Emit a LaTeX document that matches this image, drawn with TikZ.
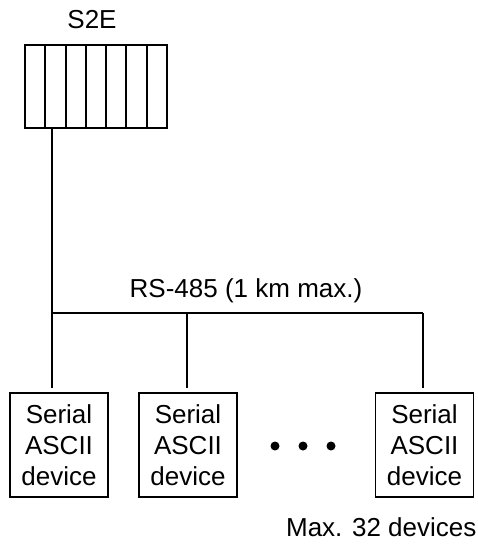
\documentclass[tikz,border=0pt]{standalone}
\usepackage{fontspec}
\setmainfont{Liberation Sans}
\usetikzlibrary{calc}
\begin{document}
\begin{tikzpicture}[x=1pt,y=1pt,line width=1.2pt,
  lbl/.style={font=\fontsize{26}{30}\selectfont,inner sep=0pt},
  devbox/.style={draw,minimum width=98pt,minimum height=104pt,inner sep=0pt,align=center,font=\fontsize{26}{31}\selectfont},
  slotbox/.style={draw,minimum width=142pt,minimum height=83pt,inner sep=0pt},
  bus/.style={line width=1.2pt}]
\useasboundingbox (0,0) rectangle (478,-544);
% S2E unit
\node[slotbox] (s2e) at (96,-86.5) {};
\foreach \xx in {45,66,86,106,126,147}{\draw (\xx,-45) -- (\xx,-128);}
\node[lbl] (s2elbl) at (92,-20) {S2E};
% devices
\node[devbox] (d1) at (59,-445) {Serial\\ASCII\\device};
\node[devbox] (d2) at (188,-445) {Serial\\ASCII\\device};
\node[devbox] (d3) at (424.5,-445) {Serial\\ASCII\\device};
% dots
\foreach \xx in {275,303,331}{\fill (\xx,-446) circle (4.5pt);}
% bus
\coordinate (j1) at (52,-313);
\coordinate (j2) at (187,-313);
\coordinate (j3) at (423,-313);
\draw[bus] (s2e.south -| j1) -- (j1);
\draw[bus] (j1) -- ($(d1.north -| j1)+(0,4)$);
\draw[bus] (j1) -- (j3);
\draw[bus] (j2) -- ($(d2.north -| j2)+(0,4)$);
\draw[bus] (j3) -- ($(d3.north -| j3)+(0,4)$);
\node[lbl] (rs) at (246,-291) {RS-485 (1 km max.)};
\node[lbl,anchor=east] (max) at (477,-527) {Max. 32 devices};
\end{tikzpicture}
\end{document}
